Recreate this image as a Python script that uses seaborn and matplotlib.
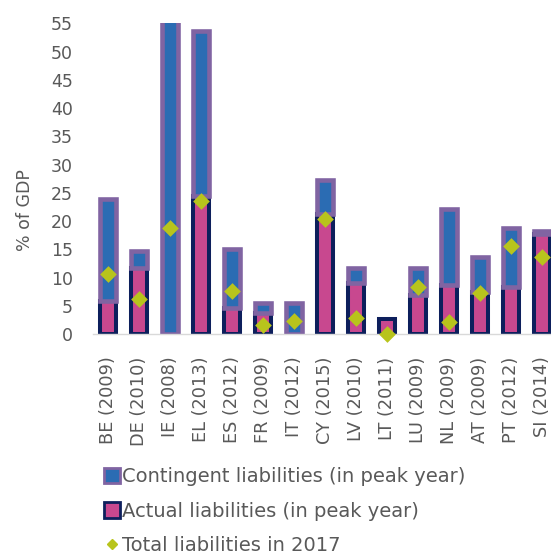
import numpy as np
import pandas as pd
import seaborn as sns
import matplotlib.pyplot as plt
from matplotlib.patches import Patch
from matplotlib.lines import Line2D

# Countries with the peak year
labels = ["BE (2009)", "DE (2010)", "IE (2008)", "EL (2013)", "ES (2012)",
          "FR (2009)", "IT (2012)", "CY (2015)", "LV (2010)", "LT (2011)",
          "LU (2009)", "NL (2009)", "AT (2009)", "PT (2012)", "SI (2014)"]

# % of GDP (IE runs off the top of the axis)
actual = [5.9, 11.7, 0.0, 24.5, 4.6, 3.8, 0.0, 21.2, 9.1, 2.7, 7.0, 8.8, 7.5, 8.4, 17.7]
contingent = [18.1, 3.1, 57.0, 29.1, 10.4, 1.8, 5.6, 6.1, 2.6, 0.0, 4.7, 13.4, 6.2, 10.4, 0.5]
total_2017 = [10.6, 6.2, 18.8, 23.5, 7.7, 1.6, 2.4, 20.4, 2.9, 0.0, 8.3, 2.1, 7.3, 15.7, 13.6]

df = pd.DataFrame({"country": labels, "actual": actual,
                   "contingent": contingent, "total": total_2017})

sns.set_theme(style="white")
plt.rcParams["font.family"] = ["DejaVu Sans"]
plt.rcParams["font.size"] = 12.5

grey = "#595959"
blue = "#2b6cb3"
purple = "#8064a2"
pink = "#c8488f"
navy = "#0d1f5c"
lime = "#b8c41c"

fig = plt.figure(figsize=(5.51, 5.58), dpi=100)
ax = fig.add_axes([0.168, 0.401, 0.844, 0.557])

# actual liabilities first, contingent stacked on top
sns.barplot(data=df, x="country", y="actual", width=0.52, color=pink,
            saturation=1, edgecolor=navy, linewidth=2.9, errorbar=None, ax=ax)
sns.barplot(data=df, x="country", y="contingent", bottom=df["actual"].values,
            width=0.52, color=blue, saturation=1, edgecolor=purple,
            linewidth=3.3, errorbar=None, ax=ax)
# zero-height bars would leave a stray edge line
for p in ax.patches:
    if p.get_height() == 0:
        p.set_visible(False)

sns.stripplot(data=df, x="country", y="total", jitter=False, marker="D",
              size=8.5, color=lime, linewidth=0, zorder=5, ax=ax)
for c in ax.collections:
    c.set_clip_on(False)

ax.set_ylim(0, 55)
ax.set_yticks(range(0, 56, 5))
ax.set_xlabel("")
ax.set_ylabel("% of GDP", color=grey, fontsize=12.5)
ax.yaxis.set_label_coords(-0.125, 0.40)
ax.tick_params(axis="both", length=0, colors=grey, labelsize=12.5)
ax.tick_params(axis="y", pad=14)
ax.tick_params(axis="x", pad=16, rotation=90, labelsize=12.8)

for s in ["left", "top", "right"]:
    ax.spines[s].set_visible(False)
ax.spines["bottom"].set_color("#d9d9d9")
ax.spines["bottom"].set_linewidth(1)

handles = [Patch(facecolor=blue, edgecolor=purple, linewidth=2),
           Patch(facecolor=pink, edgecolor=navy, linewidth=2),
           Line2D([], [], marker="D", color=lime, linestyle="none", markersize=5.5)]
names = ["Contingent liabilities (in peak year)",
         "Actual liabilities (in peak year)",
         "Total liabilities in 2017"]
fig.legend(handles, names, loc="upper left", bbox_to_anchor=(0.188, 0.163),
           frameon=False, fontsize=14, labelcolor=grey, handlelength=0.85,
           handleheight=0.85, handletextpad=0.1, labelspacing=0.8,
           borderpad=0, borderaxespad=0)

fig.savefig("out.png", dpi=100)
